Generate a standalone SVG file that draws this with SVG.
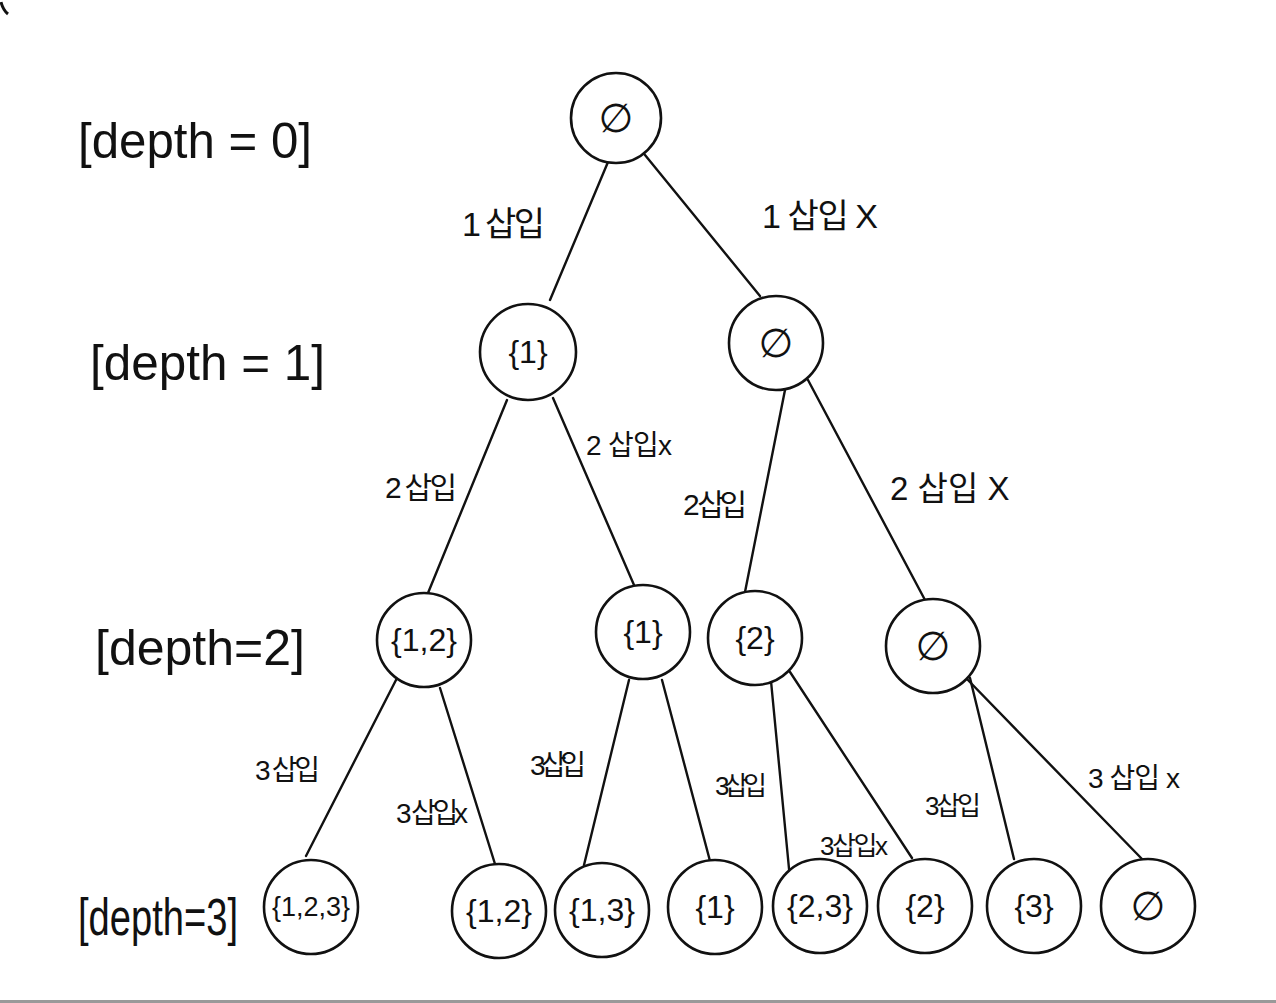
<svg xmlns="http://www.w3.org/2000/svg" width="1276" height="1003" viewBox="0 0 1276 1003">
<style>
.nd{fill:#fff;stroke:#111;stroke-width:2.6}
.nt{font-family:"Liberation Sans","DejaVu Sans",sans-serif;font-size:32px;fill:#111;text-anchor:middle;dominant-baseline:central}
.nt.sm{font-size:27px}
.em{font-family:"DejaVu Sans",sans-serif;font-size:40px;fill:#111;text-anchor:middle;dominant-baseline:central}
.el{font-family:"Liberation Sans","Noto Sans CJK KR",sans-serif;fill:#111}
.dl{font-family:"Liberation Sans",sans-serif;fill:#111}
#edges line{stroke:#111;stroke-width:2.4;stroke-linecap:round}
</style>
<rect width="1276" height="1003" fill="#fff"/>
<path d="M1,2 Q3,10 8,14" fill="none" stroke="#111" stroke-width="3"/>
<rect x="0" y="1000" width="1276" height="3" fill="#999"/>

<g id="depth-labels">
<text class="dl" x="78" y="158" font-size="50" textLength="234" lengthAdjust="spacingAndGlyphs">[depth = 0]</text>
<text class="dl" x="90" y="380" font-size="50" textLength="235" lengthAdjust="spacingAndGlyphs">[depth = 1]</text>
<text class="dl" x="95" y="665" font-size="50" textLength="210" lengthAdjust="spacingAndGlyphs">[depth=2]</text>
<text class="dl" font-size="38" transform="translate(78,935) scale(1,1.35)" textLength="160" lengthAdjust="spacingAndGlyphs">[depth=3]</text>
</g>

<g id="edges">
<line x1="608" y1="162" x2="550" y2="300"/>
<line x1="645" y1="155" x2="760" y2="296"/>
<line x1="507" y1="400" x2="428" y2="593"/>
<line x1="553" y1="398" x2="634" y2="585"/>
<line x1="785" y1="390" x2="745" y2="592"/>
<line x1="808" y1="380" x2="925" y2="600"/>
<line x1="396" y1="680" x2="306" y2="856"/>
<line x1="440" y1="688" x2="495" y2="864"/>
<line x1="629" y1="680" x2="584" y2="865"/>
<line x1="662" y1="680" x2="710" y2="861"/>
<line x1="771" y1="681" x2="790" y2="879"/>
<line x1="790" y1="672" x2="912" y2="858"/>
<line x1="970" y1="678" x2="1014" y2="859"/>
<line x1="965" y1="677" x2="1142" y2="859"/>
</g>

<g id="edge-labels">
<text class="el" x="462" y="236" font-size="34" textLength="83">1 삽입</text>
<text class="el" x="762" y="228" font-size="34" textLength="116">1 삽입 X</text>
<text class="el" x="385" y="498" font-size="30" textLength="72">2 삽입</text>
<text class="el" x="586" y="455" font-size="28" textLength="86">2 삽입x</text>
<text class="el" x="683" y="515" font-size="30" textLength="64">2 삽입</text>
<text class="el" x="890" y="500" font-size="33">2 삽입 X</text>
<text class="el" x="255" y="780" font-size="28" textLength="65">3 삽입</text>
<text class="el" x="396" y="823" font-size="28" textLength="72">3 삽입x</text>
<text class="el" x="530" y="775" font-size="28" textLength="56">3 삽입</text>
<text class="el" x="715" y="795" font-size="26" textLength="52">3삽입</text>
<text class="el" x="820" y="855" font-size="26" textLength="68">3삽입x</text>
<text class="el" x="925" y="815" font-size="26" textLength="56">3삽입</text>
<text class="el" x="1088" y="788" font-size="28" textLength="92">3 삽입 x</text>
</g>

<g id="n-root"><circle class="nd" cx="616" cy="118" r="45"/><text class="em" x="616" y="118">∅</text></g>
<g id="n-d1-1"><circle class="nd" cx="528" cy="352" r="48"/><text class="nt" x="528" y="352">{1}</text></g>
<g id="n-d1-e"><circle class="nd" cx="776" cy="343" r="47"/><text class="em" x="776" y="343">∅</text></g>
<g id="n-d2-12"><circle class="nd" cx="424" cy="640" r="47"/><text class="nt" x="424" y="640" textLength="66" lengthAdjust="spacingAndGlyphs">{1,2}</text></g>
<g id="n-d2-1"><circle class="nd" cx="643" cy="632" r="47"/><text class="nt" x="643" y="632">{1}</text></g>
<g id="n-d2-2"><circle class="nd" cx="755" cy="638" r="47"/><text class="nt" x="755" y="638">{2}</text></g>
<g id="n-d2-e"><circle class="nd" cx="933" cy="646" r="47"/><text class="em" x="933" y="646">∅</text></g>
<g id="n-d3-123"><circle class="nd" cx="311" cy="907" r="47"/><text class="nt sm" x="311" y="907">{1,2,3}</text></g>
<g id="n-d3-12"><circle class="nd" cx="499" cy="911" r="47"/><text class="nt" x="499" y="911" textLength="66" lengthAdjust="spacingAndGlyphs">{1,2}</text></g>
<g id="n-d3-13"><circle class="nd" cx="602" cy="910" r="47"/><text class="nt" x="602" y="910" textLength="66" lengthAdjust="spacingAndGlyphs">{1,3}</text></g>
<g id="n-d3-1"><circle class="nd" cx="715" cy="907" r="47"/><text class="nt" x="715" y="907">{1}</text></g>
<g id="n-d3-23"><circle class="nd" cx="820" cy="906" r="47"/><text class="nt" x="820" y="906" textLength="66" lengthAdjust="spacingAndGlyphs">{2,3}</text></g>
<g id="n-d3-2"><circle class="nd" cx="925" cy="906" r="47"/><text class="nt" x="925" y="906">{2}</text></g>
<g id="n-d3-3"><circle class="nd" cx="1034" cy="906" r="47"/><text class="nt" x="1034" y="906">{3}</text></g>
<g id="n-d3-e"><circle class="nd" cx="1148" cy="906" r="47"/><text class="em" x="1148" y="906">∅</text></g>
</svg>
